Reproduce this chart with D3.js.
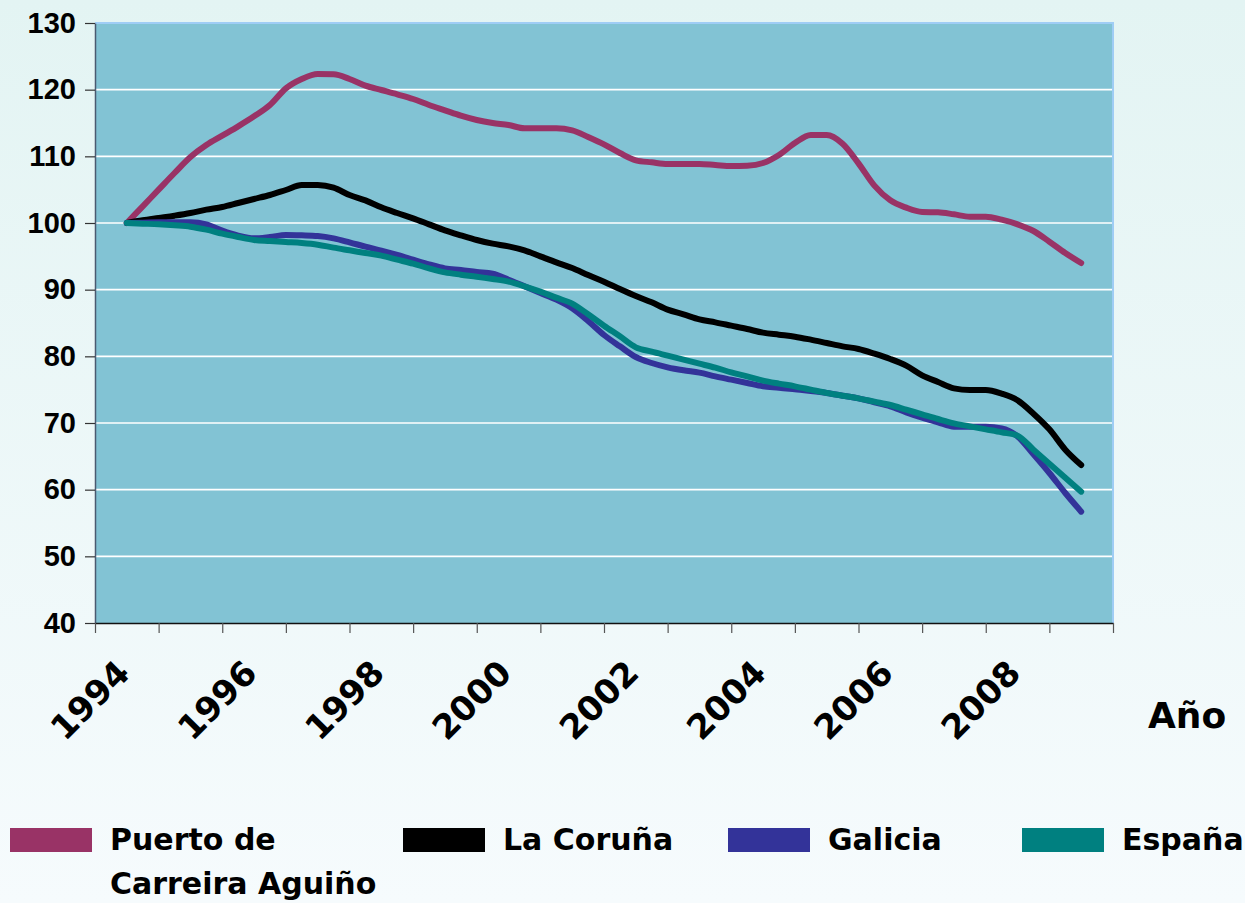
<!DOCTYPE html>
<html>
<head>
<meta charset="utf-8">
<script src="https://cdn.jsdelivr.net/npm/d3@7"></script>
<style>
  html, body { margin: 0; padding: 0; }
  body { width: 1245px; height: 903px; overflow: hidden; }
</style>
</head>
<body>
<svg id="chart" width="1245" height="903"></svg>
<script>
// Yearly categories of the x axis and the years that carry a label
const years = [1994, 1995, 1996, 1997, 1998, 1999, 2000, 2001, 2002, 2003, 2004, 2005, 2006, 2007, 2008, 2009];
const yearLabels = [1994, 1996, 1998, 2000, 2002, 2004, 2006, 2008];
const yTicks = [40, 50, 60, 70, 80, 90, 100, 110, 120, 130];
const axisTitle = "Año";

// Quarterly index values (1994 = 100), from 1994 Q1 to 2009 Q1
const puerto = [
  100, 102.5, 105.0, 107.5,
  109.9, 111.7, 113.1, 114.5,
  116.0, 117.7, 120.2, 121.6,
  122.35, 122.3, 121.6, 120.6,
  119.95, 119.3, 118.6, 117.7,
  116.9, 116.1, 115.45, 115.0,
  114.7, 114.2, 114.2, 114.2,
  113.9, 112.9, 111.8, 110.5,
  109.4, 109.1, 108.85, 108.85,
  108.85, 108.7, 108.55, 108.6,
  109.0, 110.2, 112.0, 113.2,
  113.2, 111.9, 108.95, 105.6,
  103.4, 102.3, 101.65, 101.6,
  101.3, 100.95, 100.95, 100.5,
  99.8, 98.8, 97.2, 95.5,
  94.0
];
const coruna = [
  100, 100.4, 100.75, 101.1,
  101.5, 102.0, 102.4, 103.0,
  103.6, 104.2, 104.95, 105.7,
  105.7, 105.3, 104.2, 103.4,
  102.35, 101.5, 100.7, 99.8,
  98.9, 98.15, 97.45, 96.9,
  96.5, 95.9, 95.0, 94.1,
  93.25, 92.2, 91.2, 90.1,
  89.05, 88.1, 87.0, 86.3,
  85.55, 85.1, 84.6, 84.1,
  83.55, 83.25, 82.95, 82.5,
  82.0, 81.5, 81.1, 80.4,
  79.6, 78.6, 77.15, 76.15,
  75.2, 74.95, 74.95, 74.4,
  73.4, 71.4, 69.05, 66.0,
  63.7
];
const galicia = [
  100, 100.05, 100.1, 100.1,
  100.1, 99.8, 98.85, 98.1,
  97.7, 97.9, 98.2, 98.15,
  98.05, 97.7, 97.1, 96.45,
  95.85, 95.2, 94.5, 93.8,
  93.2, 92.95, 92.65, 92.4,
  91.5, 90.5, 89.5, 88.5,
  87.2, 85.3, 83.2, 81.5,
  79.9, 79.0, 78.35, 77.9,
  77.55, 77.0, 76.5, 76.0,
  75.5, 75.3, 75.05, 74.8,
  74.5, 74.1, 73.7, 73.1,
  72.5, 71.6, 70.8, 70.1,
  69.45, 69.45, 69.45, 69.2,
  68.0, 65.3, 62.5, 59.5,
  56.7
];
const espana = [
  100, 99.9, 99.8, 99.65,
  99.45, 99.0, 98.4, 97.9,
  97.45, 97.3, 97.15, 97.0,
  96.75, 96.3, 95.9, 95.5,
  95.1, 94.5, 93.9, 93.2,
  92.6, 92.25, 91.95, 91.6,
  91.2, 90.5, 89.7, 88.8,
  87.9, 86.3, 84.6, 83.0,
  81.35, 80.7, 80.1, 79.5,
  78.9, 78.3, 77.6, 77.0,
  76.35, 75.9, 75.5, 75.0,
  74.5, 74.1, 73.7, 73.2,
  72.7, 72.0, 71.3, 70.6,
  69.95, 69.5, 69.05, 68.6,
  68.1, 66.0, 63.9, 61.8,
  59.7
];

const seriesNames = [["Puerto de", "Carreira Aguiño"], ["La Coruña"], ["Galicia"], ["España"]];
const seriesValues = [puerto, coruna, galicia, espana];
const seriesColors = ["#993366", "#000000", "#333399", "#008080"];

// Time position of each quarterly observation
const periods = puerto.map((_, i) => years[0] + i / 4);

const svg = d3.select("#chart");
const W = 1245, H = 903;
const plot = { left: 95, right: 1113, top: 23, bottom: 623 };
const labelFont = "'DejaVu Sans', Verdana, sans-serif";

// Page background
const defs = svg.append("defs");
const bg = defs.append("linearGradient").attr("id", "bg")
  .attr("x1", 0).attr("y1", 0).attr("x2", 0).attr("y2", 1);
bg.append("stop").attr("offset", "0%").attr("stop-color", "#e3f4f3");
bg.append("stop").attr("offset", "100%").attr("stop-color", "#f6fbfd");
svg.append("rect").attr("width", W).attr("height", H).attr("fill", "url(#bg)");

const x = d3.scaleLinear()
  .domain([years[0] - 0.5, years[years.length - 1] + 0.5])
  .range([plot.left, plot.right]);
const y = d3.scaleLinear()
  .domain([yTicks[0], yTicks[yTicks.length - 1]])
  .range([plot.bottom, plot.top]);

// Plot area
svg.append("rect")
  .attr("x", plot.left).attr("y", plot.top)
  .attr("width", plot.right - plot.left).attr("height", plot.bottom - plot.top)
  .attr("fill", "#82c3d4");

// Horizontal gridlines
svg.append("g")
  .selectAll("line")
  .data(yTicks.slice(1, -1))
  .join("line")
  .attr("x1", plot.left).attr("x2", plot.right)
  .attr("y1", d => y(d)).attr("y2", d => y(d))
  .attr("stroke", "#ffffff").attr("stroke-width", 1.6);

// Light frame on the top and right edges
svg.append("path")
  .attr("d", `M${plot.left},${plot.top}H${plot.right}V${plot.bottom}`)
  .attr("fill", "none").attr("stroke", "#9fcdf5").attr("stroke-width", 2);

// Series lines
const line = d3.line()
  .x((d, i) => x(periods[i]))
  .y(d => y(d))
  .curve(d3.curveMonotoneX);

svg.append("g")
  .selectAll("path")
  .data(seriesValues)
  .join("path")
  .attr("d", d => line(d))
  .attr("fill", "none")
  .attr("stroke", (d, i) => seriesColors[i])
  .attr("stroke-width", 6)
  .attr("stroke-linejoin", "round")
  .attr("stroke-linecap", "round");

// Y axis
const yAxis = svg.append("g")
  .attr("transform", `translate(${plot.left},0)`)
  .call(d3.axisLeft(y).tickValues(yTicks).tickSize(10).tickPadding(9).tickSizeOuter(0));
yAxis.select(".domain").attr("stroke", "#4a5a70").attr("stroke-width", 1.5);
yAxis.selectAll(".tick line").attr("stroke", "#333").attr("stroke-width", 1.2);
yAxis.selectAll(".tick text")
  .attr("font-family", "'Liberation Sans', Arial, sans-serif")
  .attr("font-weight", "bold")
  .attr("font-size", 29)
  .attr("fill", "#000");

// X axis: ticks on the category boundaries
const bounds = years.concat([years[years.length - 1] + 1]).map(d => d - 0.5);
const xAxis = svg.append("g")
  .attr("transform", `translate(0,${plot.bottom})`)
  .call(d3.axisBottom(x).tickValues(bounds).tickSize(10).tickFormat("").tickSizeOuter(0));
xAxis.select(".domain").attr("stroke", "#111").attr("stroke-width", 1.5);
xAxis.selectAll(".tick line").attr("stroke", "#555").attr("stroke-width", 1.2);

// Rotated year labels
svg.append("g")
  .selectAll("text")
  .data(yearLabels)
  .join("text")
  .attr("transform", d => `translate(${x(d) + 5},${plot.bottom + 52}) rotate(-45)`)
  .attr("text-anchor", "end")
  .attr("font-family", labelFont)
  .attr("font-weight", "bold")
  .attr("font-size", 34)
  .attr("fill", "#000")
  .text(d => d);

svg.append("text")
  .attr("x", 1148).attr("y", 728)
  .attr("font-family", labelFont)
  .attr("font-weight", "bold")
  .attr("font-size", 36)
  .attr("fill", "#000")
  .text(axisTitle);

// Legend
const legendX = [10, 403, 728, 1022];
const legend = svg.append("g");
seriesNames.forEach((names, i) => {
  const g = legend.append("g").attr("transform", `translate(${legendX[i]},0)`);
  g.append("rect")
    .attr("x", 0).attr("y", 828).attr("width", 82).attr("height", 24)
    .attr("fill", seriesColors[i]);
  g.selectAll("text")
    .data(names)
    .join("text")
    .attr("x", 100)
    .attr("y", (d, k) => 850 + k * 44)
    .attr("font-family", labelFont)
    .attr("font-weight", "bold")
    .attr("font-size", 30)
    .attr("fill", "#000")
    .text(d => d);
});
</script>
</body>
</html>
